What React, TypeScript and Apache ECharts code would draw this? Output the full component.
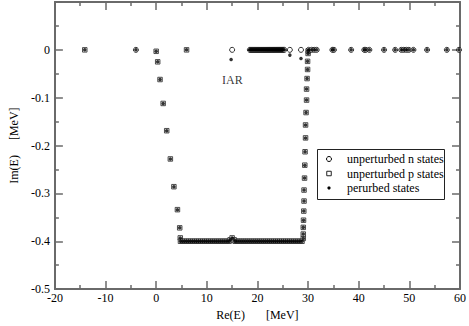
import React, { useEffect, useRef } from "react";
import * as echarts from "echarts";

// ---------- data ----------
const xTicks = { min: -20, max: 60, step: 10 };
const yTicks = { min: -0.5, max: 0.1, step: 0.1 };

// unperturbed n states (open circles), all on the real axis (Im = 0)
const nIsolatedX = [-4, 15, 26.4, 28.6];
const nBandX = [
  18.5, 18.7, 18.9, 19.1, 19.3, 19.5, 19.7, 19.9, 20.1, 20.3, 20.5, 20.7, 20.9, 21.1, 21.3, 21.5, 21.7, 21.9,
  22.1, 22.3, 22.5, 22.7, 22.9, 23.1, 23.3, 23.5, 23.7, 23.9, 24.1, 24.3, 24.5, 24.7, 24.9, 25.1, 25.3,
];
const nHighX = [
  30.1, 30.7, 31.2, 31.7, 34.8, 35.1, 38.5, 41.1, 41.4, 42.1, 45.0, 47.2, 48.4, 48.9, 49.4, 49.9, 50.8, 53.5, 57.4, 59.8,
];

// unperturbed p states (open squares)
const pRealX = [-14.1, 6.0];
const pDescentX = [0.0, 0.3, 0.76, 1.38, 2.08, 2.8, 3.5, 4.2, 4.65, 4.76];
const pDescentY = [-0.003, -0.025, -0.062, -0.112, -0.169, -0.228, -0.286, -0.334, -0.372, -0.393];
const pFloorX = [
  4.8, 5.2, 5.6, 6.0, 6.4, 6.8, 7.2, 7.6, 8.0, 8.4, 8.8, 9.2, 9.6, 10.0, 10.4, 10.8, 11.2, 11.6, 12.0, 12.4,
  12.8, 13.2, 13.6, 14.0, 14.4, 15.6, 16.0, 16.4, 16.8, 17.2, 17.6, 18.0, 18.4, 18.8, 19.2, 19.6, 20.0, 20.4,
  20.8, 21.2, 21.6, 22.0, 22.4, 22.8, 23.2, 23.6, 24.0, 24.4, 24.8, 25.2, 25.6, 26.0, 26.4, 26.8, 27.2, 27.6,
  28.0, 28.4, 28.8,
];
const pFloorY = -0.4;
const pBumpX = [14.6, 15.0, 15.4];
const pBumpY = [-0.397, -0.393, -0.397];
const pRiseX = [
  29.05, 29.05, 29.05, 29.1, 29.15, 29.2, 29.2, 29.3, 29.35, 29.4, 29.5, 29.5, 29.6, 29.7, 29.7, 29.8, 29.9, 29.9, 30.0, 30.05,
];
const pRiseY = [
  -0.394, -0.385, -0.371, -0.356, -0.337, -0.316, -0.293, -0.268, -0.241, -0.213, -0.184, -0.157, -0.131, -0.105,
  -0.082, -0.06, -0.041, -0.024, -0.0075, -0.002,
];

// perturbed states that moved off the unperturbed positions
const pertShiftX = [14.8, 26.4, 28.6];
const pertShiftY = [-0.02, -0.011, -0.018];
// unperturbed states that coincide with a perturbed state (on the real axis)
const pertRealX = [-14.1, -4, 6.0];

const iarLabel = { text: "IAR", x: 15.05, y: -0.064 };

const legendNames = ["unperturbed n states", "unperturbed p states", "perurbed states"];

// ---------- build series data ----------
const zip = (xs: number[], ys: number[]) => xs.map((x, i) => [x, ys[i]]);
const onAxis = (xs: number[], y: number) => xs.map((x) => [x, y]);

const nData = [...onAxis(nIsolatedX, 0), ...onAxis(nBandX, 0), ...onAxis(nHighX, 0)];
const pContour = [
  ...zip(pDescentX, pDescentY),
  ...onAxis(pFloorX, pFloorY),
  ...zip(pBumpX, pBumpY),
  ...zip(pRiseX, pRiseY),
];
const pData = [...onAxis(pRealX, 0), ...pContour];
const pertData = [
  ...onAxis(pertRealX, 0),
  ...pContour,
  ...onAxis(nBandX, 0),
  ...onAxis(nHighX, 0),
  ...zip(pertShiftX, pertShiftY),
];

const FONT = '"Liberation Serif", "DejaVu Serif", "Times New Roman", serif';
const AX = "#6a6a6a";

const axisLine = { show: true, onZero: false, lineStyle: { color: AX, width: 2 } };
const axisTick = { show: true, inside: true, length: 8, lineStyle: { color: AX, width: 1.5 } };
const minorTick = { show: true, splitNumber: 2, length: 4, lineStyle: { color: AX, width: 1.5 } };

const fmtY = (v: number) => {
  if (v > 0.05) return "";
  if (Math.abs(v) < 1e-9) return "0";
  return String(+v.toFixed(1));
};

const GRID = { left: 38, top: 2, width: 424, height: 296 };

// legend box geometry
const LG = { x: 317, y: 149, w: 127, h: 50, symX: 329, textX: 347, rows: [159, 173.5, 188] };

export default function App() {
  const ref = useRef<HTMLDivElement>(null);
  useEffect(() => {
    const chart = echarts.init(ref.current as HTMLDivElement, null, { renderer: "svg" });
    const option: any = {
      animation: false,
      backgroundColor: "#fff",
      grid: { ...GRID, containLabel: false },
      xAxis: [
        {
          type: "value",
          min: xTicks.min,
          max: xTicks.max,
          interval: xTicks.step,
          position: "bottom",
          name: "Re(E)\u00a0\u00a0\u00a0\u00a0\u00a0\u00a0\u00a0[MeV]",
          nameLocation: "middle",
          nameGap: 18,
          nameTextStyle: { fontFamily: FONT, fontSize: 12, color: "#000" },
          axisLine,
          axisTick,
          minorTick,
          splitLine: { show: false },
          axisLabel: { fontFamily: FONT, fontSize: 12, color: "#000", margin: 3 },
        },
        {
          type: "value",
          min: xTicks.min,
          max: xTicks.max,
          interval: xTicks.step,
          position: "top",
          axisLine,
          axisTick,
          minorTick,
          splitLine: { show: false },
          axisLabel: { show: false },
        },
      ],
      yAxis: [
        {
          type: "value",
          min: yTicks.min,
          max: yTicks.max,
          interval: yTicks.step,
          position: "left",
          name: "Im(E)\u00a0\u00a0\u00a0\u00a0\u00a0[MeV]",
          nameLocation: "middle",
          nameGap: 29,
          nameRotate: 90,
          nameTextStyle: { fontFamily: FONT, fontSize: 12, color: "#000" },
          axisLine,
          axisTick,
          minorTick,
          splitLine: { show: false },
          axisLabel: { fontFamily: FONT, fontSize: 12, color: "#000", margin: 5, formatter: fmtY },
        },
        {
          type: "value",
          min: yTicks.min,
          max: yTicks.max,
          interval: yTicks.step,
          position: "right",
          axisLine,
          axisTick,
          minorTick,
          splitLine: { show: false },
          axisLabel: { show: false },
        },
      ],
      series: [
        {
          name: legendNames[1],
          type: "scatter",
          xAxisIndex: 0,
          yAxisIndex: 0,
          symbol: "rect",
          symbolSize: 4.5,
          itemStyle: { color: "#fff", borderColor: "#222", borderWidth: 1 },
          data: pData,
          silent: true,
          z: 2,
        },
        {
          name: legendNames[0],
          type: "scatter",
          xAxisIndex: 0,
          yAxisIndex: 0,
          symbol: "circle",
          symbolSize: 5,
          itemStyle: { color: "#fff", borderColor: "#000", borderWidth: 1 },
          data: nData,
          silent: true,
          z: 3,
        },
        {
          name: legendNames[2],
          type: "scatter",
          xAxisIndex: 0,
          yAxisIndex: 0,
          symbol: "circle",
          symbolSize: 3.5,
          itemStyle: { color: "#000" },
          data: pertData,
          silent: true,
          z: 4,
        },
        {
          name: "label",
          type: "scatter",
          xAxisIndex: 0,
          yAxisIndex: 0,
          symbolSize: 0,
          data: [[iarLabel.x, iarLabel.y]],
          silent: true,
          label: {
            show: true,
            position: "inside",
            formatter: iarLabel.text,
            fontFamily: FONT,
            fontSize: 12,
            color: "#000",
          },
          z: 5,
        },
      ],
      graphic: [
        {
          type: "rect",
          shape: { x: LG.x + 0.5, y: LG.y + 0.5, width: LG.w, height: LG.h },
          style: { fill: "#fff", stroke: "#222", lineWidth: 1 },
          z: 10,
        },
        {
          type: "circle",
          shape: { cx: LG.symX, cy: LG.rows[0], r: 2.5 },
          style: { fill: "#fff", stroke: "#000", lineWidth: 1 },
          z: 11,
        },
        {
          type: "rect",
          shape: { x: LG.symX - 2.25, y: LG.rows[1] - 2.25, width: 4.5, height: 4.5 },
          style: { fill: "#fff", stroke: "#222", lineWidth: 1 },
          z: 11,
        },
        {
          type: "circle",
          shape: { cx: LG.symX, cy: LG.rows[2], r: 1.6 },
          style: { fill: "#000" },
          z: 11,
        },
        ...legendNames.map((t, i) => ({
          type: "text",
          x: LG.textX,
          y: LG.rows[i],
          style: {
            text: t,
            fontFamily: FONT,
            fontSize: 12,
            fill: "#000",
            verticalAlign: "middle",
            align: "left",
          },
          z: 11,
        })),
      ],
    };
    chart.setOption(option);
    return () => chart.dispose();
  }, []);
  return (
    <div
      ref={ref}
      style={{ position: "absolute", left: 0, top: 0, width: 469, height: 326, background: "#fff" }}
    />
  );
}
